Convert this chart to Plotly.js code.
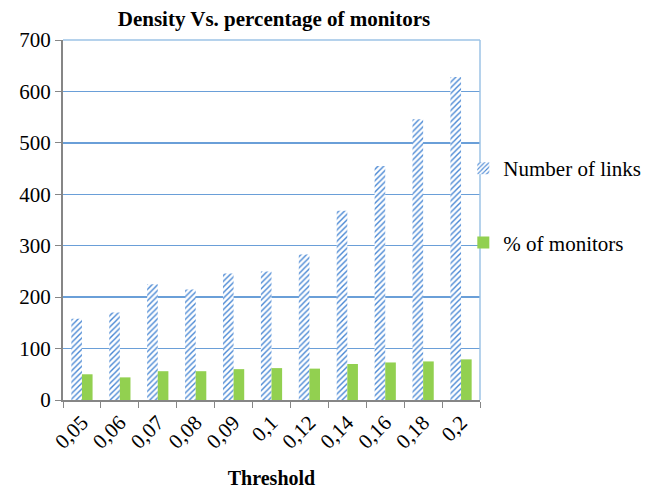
<!DOCTYPE html>
<html>
<head>
<meta charset="utf-8">
<script src="https://cdn.plot.ly/plotly-3.0.1.min.js"></script>
<style>html,body{margin:0;padding:0;background:#fff;}#chart{width:657px;height:492px;}</style>
</head>
<body>
<div id="chart"></div>
<script>
var thresholds = ["0,05","0,06","0,07","0,08","0,09","0,1","0,12","0,14","0,16","0,18","0,2"];
var numberOfLinks = [158, 170, 225, 215, 246, 250, 283, 368, 455, 546, 628];
var percentMonitors = [50, 44, 56, 56, 60, 62, 61, 70, 73, 75, 79];

var serif = "Liberation Serif, Times New Roman, serif";

var traces = [
  {
    type: "bar",
    name: "Number of links",
    x: thresholds,
    y: numberOfLinks,
    legendgroup: "a",
    marker: {
      color: "#ffffff",
      line: {width: 0},
      pattern: {shape: "/", fgcolor: "#4a88d4", bgcolor: "#ffffff", size: 4, solidity: 0.35}
    }
  },
  {
    type: "bar",
    name: "% of monitors",
    x: thresholds,
    y: percentMonitors,
    legendgroup: "b",
    marker: {color: "#92d050", line: {width: 0}}
  }
];

var layout = {
  width: 657,
  height: 492,
  margin: {l: 63, r: 177, t: 40, b: 92, autoexpand: false},
  paper_bgcolor: "#ffffff",
  plot_bgcolor: "#ffffff",
  barmode: "group",
  bargap: 0.44,
  bargroupgap: 0,
  font: {family: serif, size: 21, color: "#000"},
  title: {
    text: "<b>Density Vs. percentage of monitors</b>",
    font: {family: serif, size: 21, color: "#000"},
    x: 0.417, xanchor: "center", y: 0.962, yanchor: "middle"
  },
  xaxis: {
    type: "category",
    tickangle: -45,
    tickson: "boundaries",
    ticks: "outside",
    ticklen: 6,
    tickcolor: "#868686",
    showline: true,
    linecolor: "#868686",
    linewidth: 2,
    showgrid: false,
    mirror: false,
    tickfont: {family: serif, size: 21},
    title: {text: "<b>Threshold</b>", font: {family: serif, size: 20}, standoff: 18}
  },
  yaxis: {
    range: [0, 700],
    dtick: 100,
    ticks: "outside",
    ticklen: 6,
    tickcolor: "#868686",
    showline: true,
    linecolor: "#868686",
    linewidth: 2,
    gridcolor: "#6a9fd8",
    gridwidth: 1.3,
    zeroline: false,
    tickfont: {family: serif, size: 21}
  },
  shapes: [
    {type: "line", xref: "paper", yref: "paper", x0: 0, x1: 1, y0: 1, y1: 1, line: {color: "#9dc3e6", width: 1.5}},
    {type: "line", xref: "paper", yref: "paper", x0: 1, x1: 1, y0: 0, y1: 1, line: {color: "#9dc3e6", width: 1.5}}
  ],
  showlegend: true,
  legend: {
    x: 0.96, xanchor: "left", y: 0.70, yanchor: "top",
    bgcolor: "rgba(0,0,0,0)",
    tracegroupgap: 44,
    itemwidth: 30,
    font: {family: serif, size: 21, color: "#000"}
  }
};

Plotly.newPlot("chart", traces, layout, {displayModeBar: false, staticPlot: true});
</script>
</body>
</html>
